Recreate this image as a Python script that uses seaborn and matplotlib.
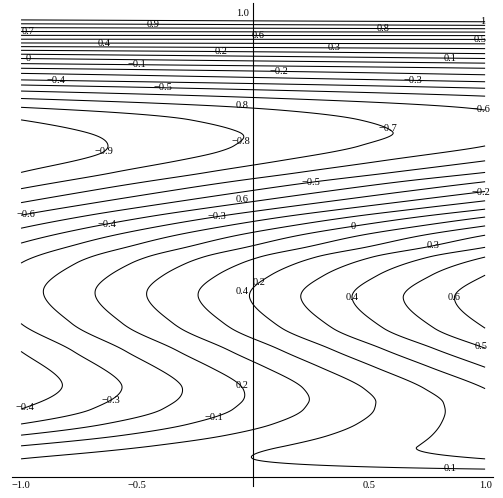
import numpy as np
import matplotlib
matplotlib.use("Agg")
import matplotlib.pyplot as plt
import seaborn as sns

# ---- data -------------------------------------------------------------
# value of the field along the left edge (x = -1), knots in y
Y_LEFT = [0.0, 0.039, 0.067, 0.09, 0.114, 0.146, 0.20, 0.27, 0.33, 0.40,
          0.46, 0.503, 0.535, 0.563, 0.59, 0.62, 0.655, 0.70, 0.768, 0.795,
          0.814, 0.830, 0.843, 0.854, 0.868, 0.879, 0.889, 0.90, 0.9415,
          0.983, 1.0]
F_LEFT = [0.05, 0.0, -0.1, -0.2, -0.3, -0.4, -0.47, -0.4, -0.3, -0.243,
          -0.3, -0.4, -0.5, -0.6, -0.7, -0.8, -0.9, -0.972, -0.9, -0.8,
          -0.7, -0.6, -0.5, -0.4, -0.3, -0.2, -0.1, 0.0, 0.5,
          1.0, 1.2]
# value of the field along the right edge (x = +1), knots in y
Y_RIGHT = [0.0, 0.017, 0.039, 0.065, 0.10, 0.133, 0.16, 0.19, 0.236, 0.277,
           0.32, 0.385, 0.434, 0.473, 0.494, 0.52, 0.54, 0.559, 0.576, 0.594,
           0.614, 0.635, 0.655, 0.68, 0.712, 0.742, 0.789, 0.819, 0.836, 0.850,
           0.865, 0.879, 0.89, 0.90, 0.941, 0.979, 1.0]
F_RIGHT = [0.0, 0.1, 0.2, 0.25, 0.252, 0.254, 0.262, 0.3, 0.4, 0.5,
           0.6, 0.66, 0.6, 0.5, 0.4, 0.3, 0.2, 0.1, 0.0, -0.1,
           -0.2, -0.3, -0.4, -0.5, -0.6, -0.64, -0.6, -0.5, -0.4, -0.3,
           -0.2, -0.1, 0.0, 0.1, 0.5, 1.0, 1.25]

LEVELS = np.round(np.arange(-1.0, 1.0001, 0.1), 1)

# contour labels: level and approximate location
LABEL_LEVEL = [0.9, 0.7, 0.4, 0.2, 0.0, -0.1, -0.4, -0.5,
               0.6, 0.8, 1.0, 0.5, 0.3, 0.1, -0.2, -0.3, -0.6,
               -0.9, -0.8, -0.7,
               -0.6, -0.4, -0.3, -0.5, 0.0, -0.2, 0.3, 0.2, 0.4, 0.6, 0.5,
               -0.4, -0.3, -0.1, 0.1]
LABEL_X = [-0.43, -0.97, -0.64, -0.14, -0.97, -0.5, -0.85, -0.39,
           0.02, 0.56, 0.99, 0.98, 0.35, 0.85, 0.11, 0.69, 0.98,
           -0.64, -0.05, 0.58,
           -0.98, -0.63, -0.155, 0.25, 0.43, 0.98, 0.776, 0.02, 0.42, 0.86, 0.98,
           -0.98, -0.61, -0.17, 0.85]
LABEL_Y = [0.972, 0.957, 0.933, 0.914, 0.90, 0.888, 0.856, 0.838,
           0.95, 0.966, 0.978, 0.942, 0.925, 0.905, 0.875, 0.858, 0.79,
           0.70, 0.72, 0.746,
           0.563, 0.54, 0.56, 0.63, 0.54, 0.614, 0.50, 0.42, 0.385, 0.385, 0.277,
           0.146, 0.16, 0.127, 0.013]

XTICKS = [-1.0, -0.5, 0.5, 1.0]
XTICK_LABELS = ["\u22121.0", "\u22120.5", "0.5", "1.0"]
YTICKS = [0.2, 0.4, 0.6, 0.8, 1.0]
YTICK_LABELS = ["0.2", "0.4", "0.6", "0.8", "1.0"]


def pchip(xk, yk, x):
    xk = np.asarray(xk, float)
    yk = np.asarray(yk, float)
    h = np.diff(xk)
    delta = np.diff(yk) / h
    n = len(xk)
    d = np.zeros(n)
    for k in range(1, n - 1):
        if delta[k - 1] * delta[k] > 0:
            w1 = 2 * h[k] + h[k - 1]
            w2 = h[k] + 2 * h[k - 1]
            d[k] = (w1 + w2) / (w1 / delta[k - 1] + w2 / delta[k])
    d[0] = delta[0]
    d[-1] = delta[-1]
    idx = np.clip(np.searchsorted(xk, x) - 1, 0, n - 2)
    t = (x - xk[idx]) / h[idx]
    h00 = 2 * t**3 - 3 * t**2 + 1
    h10 = t**3 - 2 * t**2 + t
    h01 = -2 * t**3 + 3 * t**2
    h11 = t**3 - t**2
    return (h00 * yk[idx] + h10 * h[idx] * d[idx]
            + h01 * yk[idx + 1] + h11 * h[idx] * d[idx + 1])


sns.set_style("white")
plt.rcParams["font.family"] = ["Liberation Serif", "DejaVu Serif"]
plt.rcParams["axes.unicode_minus"] = True
plt.rcParams["contour.negative_linestyle"] = "solid"

xs = np.linspace(-1, 1, 401)
ys = np.linspace(0, 1, 2001)
fl = pchip(Y_LEFT, F_LEFT, ys)
fr = pchip(Y_RIGHT, F_RIGHT, ys)
Z = ((1 - xs) / 2)[None, :] * fl[:, None] + ((1 + xs) / 2)[None, :] * fr[:, None]

fig = plt.figure(figsize=(5.03, 4.98), dpi=100)
ax = fig.add_axes([12 / 503, (498 - 486.3) / 498, 481 / 503, 483.6 / 498])
ax.set_xlim(-1.039, 1.034)
ax.set_ylim(-0.02, 1.02)

cs = ax.contour(xs, ys, Z, levels=LEVELS, colors="black", linewidths=0.75,
                linestyles="solid")


def fmt(v):
    if abs(v) < 1e-9:
        return "0"
    if abs(v - 1) < 1e-9:
        return "1"
    return f"{v:.1f}".replace("-", "\u2212")


# place each label on the nearest point of its own contour level
for lev, lx, ly in zip(LABEL_LEVEL, LABEL_X, LABEL_Y):
    i = int(np.argmin(np.abs(cs.levels - lev)))
    segs = [s for s in cs.allsegs[i] if len(s)]
    if not segs:
        continue
    pts = np.concatenate(segs)
    dist = ((pts[:, 0] - lx) * 232) ** 2 + ((pts[:, 1] - ly) * 465) ** 2
    px, py = pts[np.argmin(dist)]
    ax.text(px, py, fmt(cs.levels[i]), ha="center", va="center",
            fontsize=7.5, color="black", zorder=5)

for s in ["top", "right"]:
    ax.spines[s].set_visible(False)
ax.spines["left"].set_position(("data", 0))
ax.spines["bottom"].set_position(("data", 0))
for s in ["left", "bottom"]:
    ax.spines[s].set_linewidth(0.8)
    ax.spines[s].set_color("black")

ax.set_xticks(XTICKS)
ax.set_xticklabels(XTICK_LABELS)
ax.set_yticks(YTICKS)
ax.set_yticklabels(YTICK_LABELS)
xminor = [v for v in np.round(np.arange(-1.0, 1.0001, 0.1), 2) if round(v * 2, 6) % 1 != 0]
yminor = [v for v in np.round(np.arange(0.05, 1.0001, 0.05), 2) if round(v * 5, 6) % 1 != 0]
ax.set_xticks(xminor, minor=True)
ax.set_yticks(yminor, minor=True)
ax.tick_params(which="major", direction="in", length=4.5, width=0.6,
               labelsize=7.5, colors="black", pad=3)
ax.tick_params(which="minor", direction="in", length=2.5, width=0.5)
ax.grid(False)
ax.set_facecolor("white")
fig.patch.set_facecolor("white")

fig.savefig("out.png", dpi=100, facecolor="white")
